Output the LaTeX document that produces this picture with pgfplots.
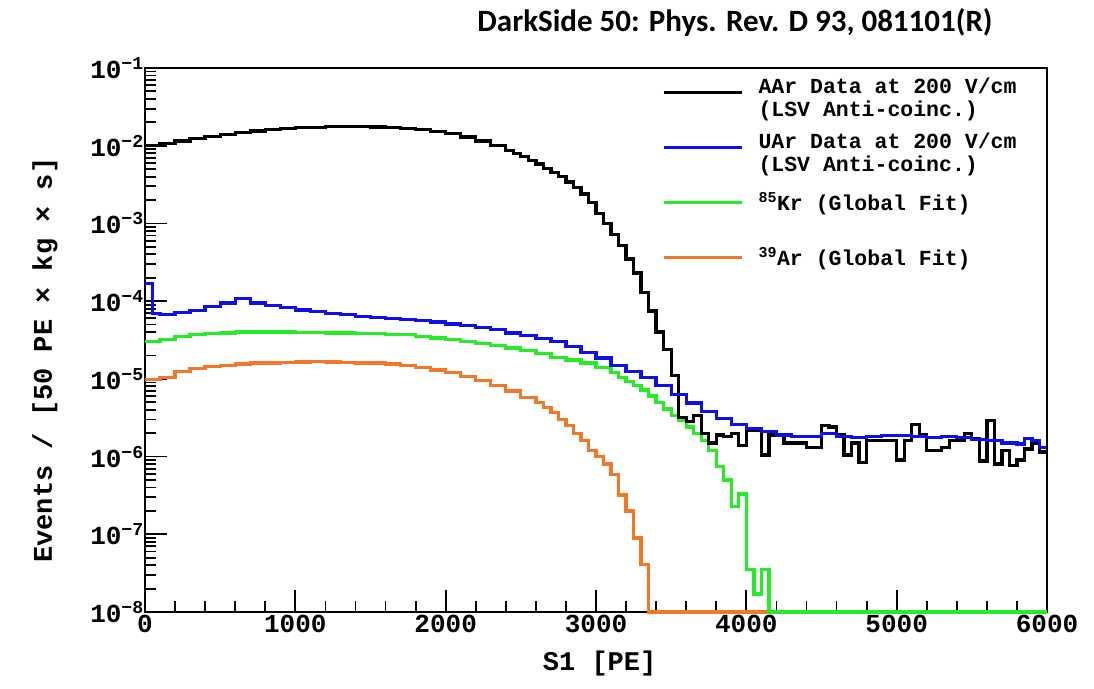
\documentclass[border=0pt]{standalone}
\usepackage{fontspec}
\usepackage{pgfplots}
\usepackage{pgfplotstable}
\pgfplotsset{compat=1.18}
\setmainfont{Liberation Mono}
\newfontfamily\titlefont{Carlito}
\definecolor{cblue}{RGB}{15,15,235}
\definecolor{cgreen}{RGB}{40,235,40}
\definecolor{corange}{RGB}{240,120,40}

\pgfplotstableread{
x y
0 1.00e-2
100 1.07e-2
200 1.15e-2
300 1.23e-2
400 1.32e-2
500 1.40e-2
600 1.48e-2
700 1.55e-2
800 1.61e-2
900 1.66e-2
1000 1.70e-2
1100 1.73e-2
1200 1.75e-2
1300 1.76e-2
1400 1.75e-2
1500 1.74e-2
1600 1.72e-2
1700 1.68e-2
1800 1.62e-2
1900 1.53e-2
2000 1.43e-2
2100 1.30e-2
2200 1.15e-2
2300 1.00e-2
2400 8.6e-3
2450 7.9e-3
2500 7.2e-3
2550 6.5e-3
2600 5.8e-3
2650 5.1e-3
2700 4.5e-3
2750 4.0e-3
2800 3.4e-3
2850 2.9e-3
2900 2.4e-3
2950 1.85e-3
3000 1.35e-3
3050 1.0e-3
3100 7.2e-4
3150 5.2e-4
3200 3.5e-4
3250 2.3e-4
3300 1.3e-4
3350 7.5e-5
3400 4.0e-5
3450 2.4e-5
3500 1.1e-5
3550 3.2e-6
3600 2.8e-6
3650 3.4e-6
3700 2.0e-6
3750 1.5e-6
3800 1.9e-6
3850 1.8e-6
3900 2.0e-6
3950 1.4e-6
4000 2.2e-6
4050 2.2e-6
4100 1.05e-6
4150 1.9e-6
4200 1.9e-6
4250 1.5e-6
4300 1.5e-6
4350 1.5e-6
4400 1.3e-6
4450 1.3e-6
4500 2.5e-6
4550 2.4e-6
4600 1.9e-6
4650 1.05e-6
4700 1.5e-6
4750 8.4e-7
4800 1.6e-6
4850 1.6e-6
4900 1.6e-6
4950 1.6e-6
5000 9.0e-7
5050 1.6e-6
5100 2.6e-6
5150 1.9e-6
5200 1.2e-6
5250 1.2e-6
5300 1.3e-6
5350 1.6e-6
5400 1.6e-6
5450 2.0e-6
5500 1.7e-6
5550 8.8e-7
5600 2.9e-6
5650 8.0e-7
5700 1.2e-6
5750 7.6e-7
5800 9.0e-7
5850 1.25e-6
5900 1.5e-6
5950 1.15e-6
6000 1.15e-6
}\aar

\pgfplotstableread{
x y
0 1.7e-4
50 7.0e-5
100 6.8e-5
200 7.2e-5
300 7.6e-5
400 8.5e-5
500 9.5e-5
600 1.08e-4
700 9.5e-5
800 8.8e-5
900 8.2e-5
1000 7.7e-5
1100 7.3e-5
1200 7.0e-5
1300 6.7e-5
1400 6.4e-5
1500 6.2e-5
1600 6.0e-5
1700 5.8e-5
1800 5.6e-5
1900 5.4e-5
2000 5.1e-5
2100 4.9e-5
2200 4.6e-5
2300 4.3e-5
2400 3.9e-5
2500 3.6e-5
2600 3.3e-5
2700 3.0e-5
2800 2.6e-5
2900 2.2e-5
3000 1.85e-5
3100 1.5e-5
3200 1.25e-5
3300 1.05e-5
3400 8.2e-6
3500 6.3e-6
3600 4.9e-6
3700 3.8e-6
3800 3.1e-6
3900 2.6e-6
4000 2.3e-6
4100 2.1e-6
4200 1.9e-6
4300 1.8e-6
4400 1.8e-6
4500 2.0e-6
4600 1.8e-6
4700 1.75e-6
4800 1.8e-6
4900 1.85e-6
5000 1.85e-6
5100 1.8e-6
5200 1.75e-6
5300 1.8e-6
5400 1.75e-6
5500 1.65e-6
5600 1.6e-6
5700 1.5e-6
5800 1.45e-6
5850 1.7e-6
5900 1.6e-6
5950 1.3e-6
6000 1.3e-6
}\uar

\pgfplotstableread{
x y
0 3.0e-5
100 3.2e-5
200 3.5e-5
300 3.7e-5
400 3.8e-5
500 3.9e-5
600 4.0e-5
800 4.0e-5
1000 3.95e-5
1200 3.9e-5
1400 3.85e-5
1600 3.7e-5
1800 3.5e-5
1900 3.35e-5
2000 3.2e-5
2100 3.0e-5
2200 2.85e-5
2300 2.7e-5
2400 2.5e-5
2500 2.3e-5
2600 2.1e-5
2700 1.9e-5
2800 1.75e-5
2900 1.6e-5
3000 1.4e-5
3100 1.2e-5
3150 1.05e-5
3200 9.3e-6
3250 8.2e-6
3300 7.2e-6
3350 6.0e-6
3400 5.0e-6
3450 4.1e-6
3500 3.4e-6
3550 2.9e-6
3600 2.4e-6
3650 2.0e-6
3700 1.6e-6
3750 1.2e-6
3800 7.5e-7
3850 5.0e-7
3900 2.3e-7
3950 3.3e-7
4000 3.5e-8
4050 1.7e-8
4100 3.5e-8
4150 1e-8
6000 1e-8
}\kr

\pgfplotstableread{
x y
0 9.8e-6
100 1.05e-5
200 1.25e-5
300 1.35e-5
400 1.45e-5
500 1.5e-5
600 1.55e-5
700 1.6e-5
800 1.6e-5
900 1.63e-5
1000 1.65e-5
1100 1.67e-5
1200 1.65e-5
1300 1.62e-5
1400 1.6e-5
1500 1.6e-5
1600 1.55e-5
1700 1.48e-5
1800 1.4e-5
1900 1.3e-5
2000 1.2e-5
2100 1.08e-5
2200 9.6e-6
2300 8.3e-6
2400 7.0e-6
2500 5.8e-6
2600 5.0e-6
2650 4.3e-6
2700 3.7e-6
2750 3.0e-6
2800 2.5e-6
2850 2.0e-6
2900 1.6e-6
2950 1.2e-6
3000 1.0e-6
3050 8.0e-7
3100 5.9e-7
3150 3.2e-7
3200 2.0e-7
3250 9.0e-8
3300 4.1e-8
3350 1e-8
4150 1e-8
}\arr

\begin{document}
\begin{tikzpicture}
\path (0pt,0pt) rectangle (1094pt,688pt);
\node[font=\titlefont\bfseries\fontsize{31}{34}\selectfont] at (735pt,666pt) {DarkSide 50: Phys. Rev. D 93, 081101(R)};
\begin{axis}[
  at={(145pt,76pt)}, anchor=south west,
  scale only axis, width=902pt, height=544pt,
  ymode=log, xmin=0, xmax=6000, ymin=1e-8, ymax=1e-1,
  clip=false,
  axis line style={line width=2.8pt},
  tick style={line width=1.8pt, black},
  tick align=inside, xtick pos=bottom, ytick pos=left,
  major tick length=22pt, minor tick length=11pt,
  xtick={0,1000,...,6000},
  xticklabels={0,1000,2000,3000,4000,5000,6000},
  minor x tick num=4,
  ytickten={-8,-7,...,-1},
  yticklabel={\pgfmathparse{int(round(-\tick/2.302585))}10\textsuperscript{−\pgfmathresult}},
  tick label style={font=\bfseries\fontsize{26}{30}\selectfont},
  yticklabel style={inner sep=1pt},
  label style={font=\bfseries\fontsize{27}{30}\selectfont},
  xlabel={S1 [PE]},
  ylabel={Events / [50 PE × kg × s]},
  xlabel style={at={(axis description cs:0.504,-0.094)}, anchor=center},
  ylabel style={at={(axis description cs:-0.111,0.463)}, anchor=center},
  legend image code/.code={\draw[#1] (0pt,0pt)--(78pt,0pt);},
  legend cell align=left,
  legend style={at={(axis description cs:0.5732,1.0064)}, anchor=north west,
    draw=none, fill=none, inner sep=0pt, column sep=15pt, row sep=0pt,
    font=\bfseries\fontsize{21.5}{23}\selectfont,
    nodes={minimum height=55pt, inner sep=0pt}},
]
\addlegendimage{black, line width=3.3pt}
\addlegendentry{\begin{tabular}[c]{@{}l@{}}AAr Data at 200 V/cm\\(LSV Anti-coinc.)\end{tabular}}
\addlegendimage{cblue, line width=3.3pt}
\addlegendentry{\begin{tabular}[c]{@{}l@{}}UAr Data at 200 V/cm\\(LSV Anti-coinc.)\end{tabular}}
\addlegendimage{cgreen, line width=3.3pt}
\addlegendentry{\textsuperscript{85}Kr (Global Fit)}
\addlegendimage{corange, line width=3.3pt}
\addlegendentry{\textsuperscript{39}Ar (Global Fit)}

\addplot[const plot, corange, line width=3.3pt, forget plot] table {\arr};
\addplot[const plot, cgreen, line width=3.3pt, forget plot] table {\kr};
\addplot[const plot, black, line width=3.3pt, forget plot] table {\aar};
\addplot[const plot, cblue, line width=3.3pt, forget plot] table {\uar};
\end{axis}
\end{tikzpicture}
\end{document}
